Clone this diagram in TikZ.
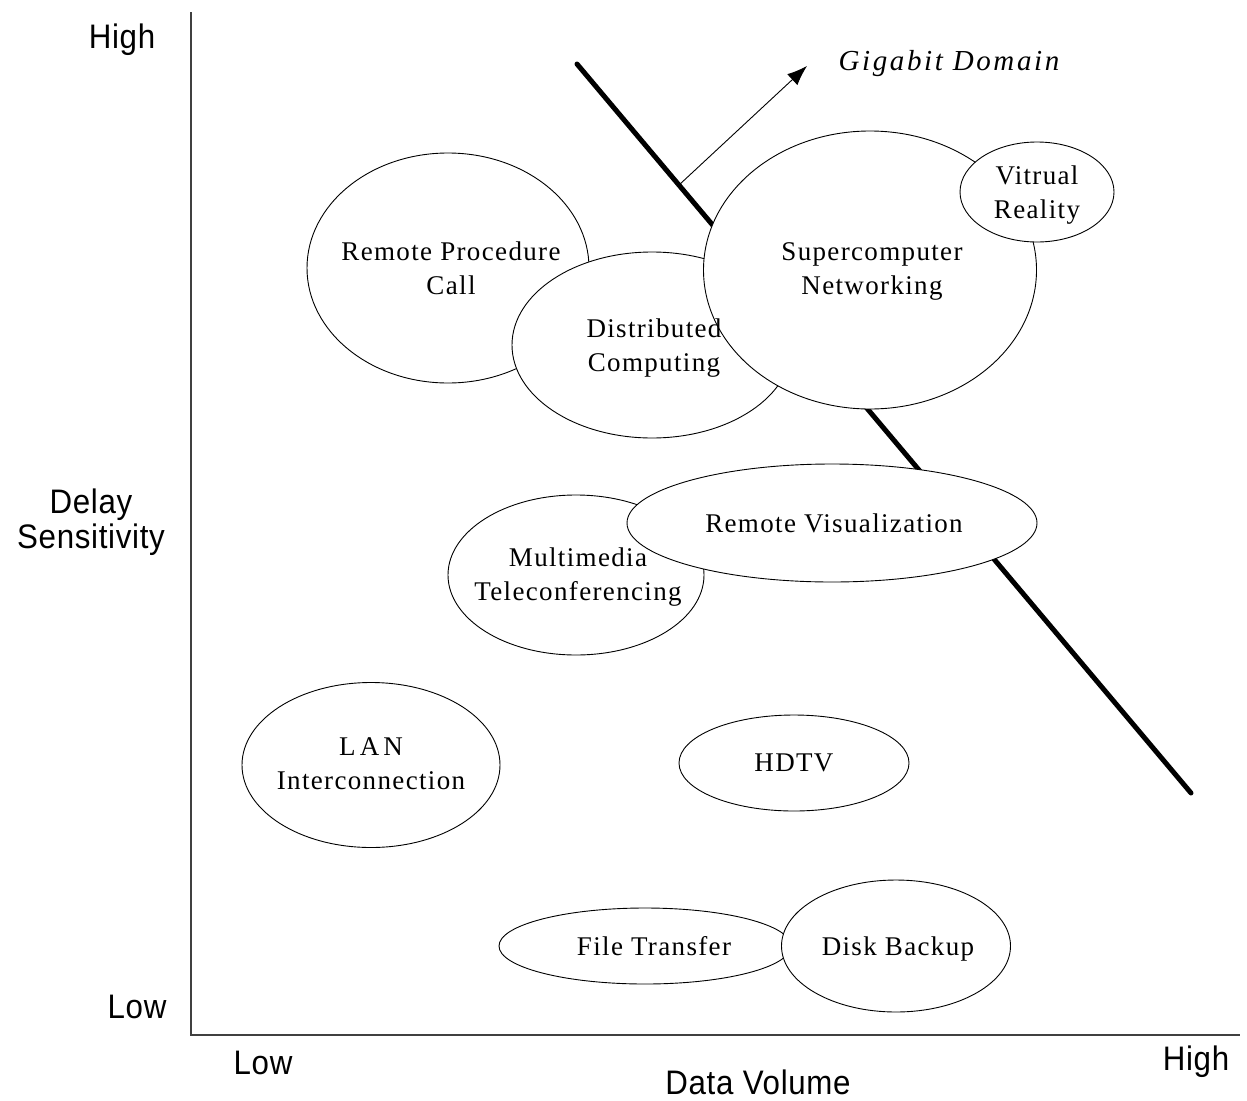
\documentclass[tikz,border=0pt]{standalone}
\usepackage{fontspec}
\setmainfont{Liberation Serif}[LetterSpace=5]
\newfontfamily\axisfont{Liberation Sans}[FakeStretch=0.92,LetterSpace=2]
\usetikzlibrary{shapes.geometric,arrows.meta}
\begin{document}
\begin{tikzpicture}[x=1pt,y=-1pt,
  bubble/.style={ellipse, draw, fill=white, line width=0.9pt, inner sep=0pt},
  lbl/.style={font=\fontsize{27}{34}\selectfont, align=center, inner sep=0pt},
  glbl/.style={font=\fontsize{29}{34}\selectfont\itshape\addfontfeature{LetterSpace=9}, inner sep=0pt},
  ax/.style={font=\axisfont\fontsize{34}{35}\selectfont, align=center, inner sep=0pt},
  axisline/.style={draw=black!75, line width=1.5pt},
  border/.style={line width=5pt, line cap=round},
  pointer/.style={line width=0.9pt, -{Latex[length=20pt,width=15pt]}}]
\useasboundingbox (0,0) rectangle (1247,1100);
% axes
\coordinate (ytop) at (191,12);
\coordinate (orig) at (191,1035);
\coordinate (xend) at (1240,1035);
\draw[axisline] (ytop) -- (orig) -- (xend);
% gigabit border line
\coordinate (bl1) at (577,64);
\coordinate (bl2) at (1191,793);
\draw[border] (bl1) -- (bl2);
\coordinate (astart) at (679,185);
\node[glbl] (giga) at (949,64) {Gigabit Domain};
\coordinate (aend) at (807,66);
\draw[pointer] (astart) -- (aend);
% ellipses
\node[bubble, minimum width=282pt, minimum height=230pt] (rpc) at (448,268) {};
\node[bubble, minimum width=280pt, minimum height=186pt] (dist) at (652,345) {};
\node[bubble, minimum width=333pt, minimum height=278pt] (sup) at (870,270) {};
\node[bubble, minimum width=154pt, minimum height=100pt] (vr) at (1037,192) {};
\node[bubble, minimum width=256pt, minimum height=160pt] (mm) at (576,575) {};
\node[bubble, minimum width=410pt, minimum height=118pt] (rv) at (832,523) {};
\node[bubble, minimum width=258pt, minimum height=165pt] (lan) at (371,765) {};
\node[bubble, minimum width=230pt, minimum height=96pt] (hdtv) at (794,763) {};
\node[bubble, minimum width=292pt, minimum height=76pt] (ft) at (645,946) {};
\node[bubble, minimum width=229pt, minimum height=132pt] (db) at (896,946) {};
% labels
\node[lbl] (rpct) at (451,268) {Remote Procedure\\Call};
\node[lbl] (distt) at (654,348) {Distributed\\Computing};
\node[lbl] (supt) at (872,271) {Supercomputer\\Networking};
\node[lbl] (vrt) at (1037,195) {Vitrual\\Reality};
\node[lbl] (mmt) at (578,577) {Multimedia\\Teleconferencing};
\node[lbl] (rvt) at (834,523) {Remote Visualization};
\node[lbl] (lant) at (371,764) {{\addfontfeature{LetterSpace=15}LAN}\\Interconnection};
\node[lbl] (hdtvt) at (794,763) {HDTV};
\node[lbl] (ftt) at (654,946) {File Transfer};
\node[lbl] (dbt) at (898,949) {Disk Backup};
% axis labels
\node[ax] (yhigh) at (122,40) {High};
\node[ax] (ylab) at (91,522) {Delay\\Sensitivity};
\node[ax] (ylow) at (137,1007) {Low};
\node[ax] (xlow) at (263,1063) {Low};
\node[ax] (xhigh) at (1196,1062) {High};
\node[ax] (xlab) at (758,1082) {Data Volume};
\end{tikzpicture}
\end{document}
